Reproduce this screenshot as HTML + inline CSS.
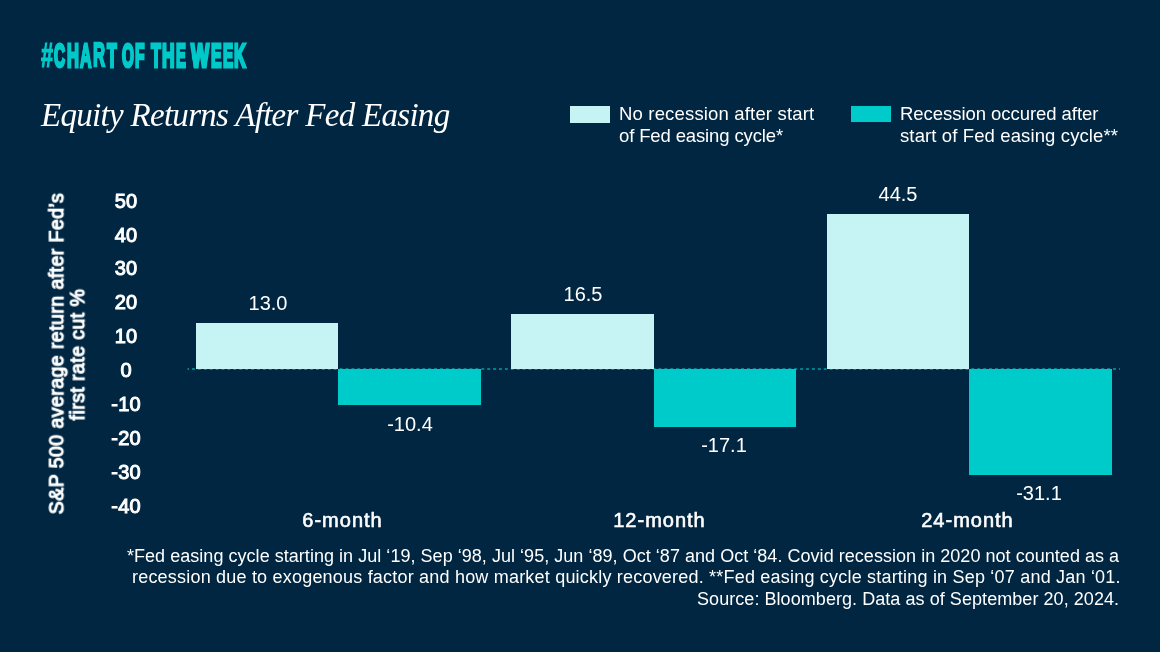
<!DOCTYPE html>
<html><head><meta charset="utf-8"><style>
html,body{margin:0;padding:0;}
body{width:1160px;height:652px;overflow:hidden;background:#002641;position:relative;font-family:"Liberation Sans",sans-serif;}
.t{position:absolute;white-space:nowrap;will-change:transform;}
.b{position:absolute;}
</style></head><body>
<div class="t" style="left:40.54px;top:37.40px;font:bold 35.91px/35.91px 'Liberation Sans',sans-serif;color:#00c9c9;-webkit-text-stroke:1.2px #00c9c9;transform:scaleX(0.6057);transform-origin:0 0">#</div>
<div class="t" style="left:54.16px;top:38.87px;font:bold 33.00px/33.00px 'Liberation Sans',sans-serif;color:#00c9c9;-webkit-text-stroke:3.2px #00c9c9;transform:scaleX(0.4601);transform-origin:0 0">C</div>
<div class="t" style="left:67.15px;top:38.87px;font:bold 33.00px/33.00px 'Liberation Sans',sans-serif;color:#00c9c9;-webkit-text-stroke:3.2px #00c9c9;transform:scaleX(0.5000);transform-origin:0 0">H</div>
<div class="t" style="left:80.32px;top:38.57px;font:bold 33.58px/33.58px 'Liberation Sans',sans-serif;color:#00c9c9;-webkit-text-stroke:2.8px #00c9c9;transform:scaleX(0.4738);transform-origin:0 0">A</div>
<div class="t" style="left:92.67px;top:38.43px;font:bold 33.87px/33.87px 'Liberation Sans',sans-serif;color:#00c9c9;-webkit-text-stroke:2.6px #00c9c9;transform:scaleX(0.4938);transform-origin:0 0">R</div>
<div class="t" style="left:106.74px;top:38.87px;font:bold 33.00px/33.00px 'Liberation Sans',sans-serif;color:#00c9c9;-webkit-text-stroke:3.2px #00c9c9;transform:scaleX(0.4816);transform-origin:0 0">T</div>
<div class="t" style="left:121.66px;top:38.87px;font:bold 33.00px/33.00px 'Liberation Sans',sans-serif;color:#00c9c9;-webkit-text-stroke:3.2px #00c9c9;transform:scaleX(0.4631);transform-origin:0 0">O</div>
<div class="t" style="left:134.66px;top:38.87px;font:bold 33.00px/33.00px 'Liberation Sans',sans-serif;color:#00c9c9;-webkit-text-stroke:3.2px #00c9c9;transform:scaleX(0.4714);transform-origin:0 0">F</div>
<div class="t" style="left:150.75px;top:38.87px;font:bold 33.00px/33.00px 'Liberation Sans',sans-serif;color:#00c9c9;-webkit-text-stroke:3.2px #00c9c9;transform:scaleX(0.4904);transform-origin:0 0">T</div>
<div class="t" style="left:162.23px;top:38.87px;font:bold 33.00px/33.00px 'Liberation Sans',sans-serif;color:#00c9c9;-webkit-text-stroke:3.2px #00c9c9;transform:scaleX(0.5221);transform-origin:0 0">H</div>
<div class="t" style="left:176.08px;top:38.87px;font:bold 33.00px/33.00px 'Liberation Sans',sans-serif;color:#00c9c9;-webkit-text-stroke:3.2px #00c9c9;transform:scaleX(0.4467);transform-origin:0 0">E</div>
<div class="t" style="left:191.06px;top:38.87px;font:bold 33.00px/33.00px 'Liberation Sans',sans-serif;color:#00c9c9;-webkit-text-stroke:3.2px #00c9c9;transform:scaleX(0.5834);transform-origin:0 0">W</div>
<div class="t" style="left:210.86px;top:38.87px;font:bold 33.00px/33.00px 'Liberation Sans',sans-serif;color:#00c9c9;-webkit-text-stroke:3.2px #00c9c9;transform:scaleX(0.4790);transform-origin:0 0">E</div>
<div class="t" style="left:222.67px;top:38.87px;font:bold 33.00px/33.00px 'Liberation Sans',sans-serif;color:#00c9c9;-webkit-text-stroke:3.2px #00c9c9;transform:scaleX(0.4605);transform-origin:0 0">E</div>
<div class="t" style="left:233.95px;top:38.87px;font:bold 33.00px/33.00px 'Liberation Sans',sans-serif;color:#00c9c9;-webkit-text-stroke:3.2px #00c9c9;transform:scaleX(0.4935);transform-origin:0 0">K</div>
<div class="t" style="left:41px;top:99.36px;font:italic 33px/33px 'Liberation Serif',serif;color:#fff;letter-spacing:-0.7px">Equity Returns After Fed Easing</div>
<div class="b" style="left:570px;top:106px;width:40px;height:17px;background:#c6f4f4"></div>
<div class="b" style="left:851px;top:106px;width:40px;height:16px;background:#00cbcb"></div>
<div class="t" style="left:619px;top:105.44px;font:18.5px/18.5px 'Liberation Sans',sans-serif;color:#fff;letter-spacing:0.17px">No recession after start</div>
<div class="t" style="left:619px;top:127.14px;font:18.5px/18.5px 'Liberation Sans',sans-serif;color:#fff;letter-spacing:-0.13px">of Fed easing cycle*</div>
<div class="t" style="left:900px;top:105.44px;font:18.5px/18.5px 'Liberation Sans',sans-serif;color:#fff;letter-spacing:-0.05px">Recession occured after</div>
<div class="t" style="left:900px;top:127.14px;font:18.5px/18.5px 'Liberation Sans',sans-serif;color:#fff;letter-spacing:0.12px">start of Fed easing cycle**</div>
<div class="t" style="left:-142.66px;top:344.25px;width:400px;text-align:center;font:19.5px/19.5px 'Liberation Sans',sans-serif;color:#fff;-webkit-text-stroke:1.1px #fff;letter-spacing:0.45px;text-indent:0.45px;transform:rotate(-90deg)">S&amp;P 500 average return after Fed’s</div>
<div class="t" style="left:-122.46px;top:345.25px;width:400px;text-align:center;font:19.5px/19.5px 'Liberation Sans',sans-serif;color:#fff;-webkit-text-stroke:1.1px #fff;letter-spacing:0.45px;text-indent:0.45px;transform:rotate(-90deg)">first rate cut %</div>
<div class="t" style="left:85.5px;width:80px;text-align:center;top:190.57px;font:20px/20px 'Liberation Sans',sans-serif;color:#fff;-webkit-text-stroke:1.0px #fff;letter-spacing:0.2px;text-indent:0.2px">50</div>
<div class="t" style="left:85.5px;width:80px;text-align:center;top:224.52px;font:20px/20px 'Liberation Sans',sans-serif;color:#fff;-webkit-text-stroke:1.0px #fff;letter-spacing:0.2px;text-indent:0.2px">40</div>
<div class="t" style="left:85.5px;width:80px;text-align:center;top:258.47px;font:20px/20px 'Liberation Sans',sans-serif;color:#fff;-webkit-text-stroke:1.0px #fff;letter-spacing:0.2px;text-indent:0.2px">30</div>
<div class="t" style="left:85.5px;width:80px;text-align:center;top:292.42px;font:20px/20px 'Liberation Sans',sans-serif;color:#fff;-webkit-text-stroke:1.0px #fff;letter-spacing:0.2px;text-indent:0.2px">20</div>
<div class="t" style="left:85.5px;width:80px;text-align:center;top:326.37px;font:20px/20px 'Liberation Sans',sans-serif;color:#fff;-webkit-text-stroke:1.0px #fff;letter-spacing:0.2px;text-indent:0.2px">10</div>
<div class="t" style="left:85.5px;width:80px;text-align:center;top:360.32px;font:20px/20px 'Liberation Sans',sans-serif;color:#fff;-webkit-text-stroke:1.0px #fff;letter-spacing:0.2px;text-indent:0.2px">0</div>
<div class="t" style="left:85.5px;width:80px;text-align:center;top:394.27px;font:20px/20px 'Liberation Sans',sans-serif;color:#fff;-webkit-text-stroke:1.0px #fff;letter-spacing:0.2px;text-indent:0.2px">-10</div>
<div class="t" style="left:85.5px;width:80px;text-align:center;top:428.22px;font:20px/20px 'Liberation Sans',sans-serif;color:#fff;-webkit-text-stroke:1.0px #fff;letter-spacing:0.2px;text-indent:0.2px">-20</div>
<div class="t" style="left:85.5px;width:80px;text-align:center;top:462.17px;font:20px/20px 'Liberation Sans',sans-serif;color:#fff;-webkit-text-stroke:1.0px #fff;letter-spacing:0.2px;text-indent:0.2px">-30</div>
<div class="t" style="left:85.5px;width:80px;text-align:center;top:496.12px;font:20px/20px 'Liberation Sans',sans-serif;color:#fff;-webkit-text-stroke:1.0px #fff;letter-spacing:0.2px;text-indent:0.2px">-40</div>
<svg class="b" style="left:0;top:0" width="1160" height="652"><line x1="187.5" y1="369" x2="1120" y2="369" stroke="#00cbcb" stroke-opacity="0.55" stroke-width="2" stroke-dasharray="2.952 2.952" stroke-dashoffset="1.4"/></svg>
<div class="b" style="left:196px;top:323px;width:142px;height:46px;background:#c6f4f4"></div>
<div class="b" style="left:338px;top:369px;width:143px;height:36px;background:#00cbcb"></div>
<div class="b" style="left:511px;top:314px;width:143px;height:55px;background:#c6f4f4"></div>
<div class="b" style="left:654px;top:369px;width:142px;height:58px;background:#00cbcb"></div>
<div class="b" style="left:827px;top:214px;width:142px;height:155px;background:#c6f4f4"></div>
<div class="b" style="left:969px;top:369px;width:143px;height:106px;background:#00cbcb"></div>
<div class="t" style="left:218px;width:100px;text-align:center;top:293.07px;font:20px/20px 'Liberation Sans',sans-serif;color:#fff">13.0</div>
<div class="t" style="left:359.5px;width:100px;text-align:center;top:413.77px;font:20px/20px 'Liberation Sans',sans-serif;color:#fff">-10.4</div>
<div class="t" style="left:533.4px;width:100px;text-align:center;top:284.07px;font:20px/20px 'Liberation Sans',sans-serif;color:#fff">16.5</div>
<div class="t" style="left:674px;width:100px;text-align:center;top:435.07px;font:20px/20px 'Liberation Sans',sans-serif;color:#fff">-17.1</div>
<div class="t" style="left:848px;width:100px;text-align:center;top:183.67px;font:20px/20px 'Liberation Sans',sans-serif;color:#fff">44.5</div>
<div class="t" style="left:989.2px;width:100px;text-align:center;top:483.27px;font:20px/20px 'Liberation Sans',sans-serif;color:#fff">-31.1</div>
<div class="t" style="left:262.2px;width:160px;text-align:center;top:510.07px;font:20px/20px 'Liberation Sans',sans-serif;color:#fff;-webkit-text-stroke:0.6px #fff;letter-spacing:1.0px;text-indent:1.0px">6-month</div>
<div class="t" style="left:578.6px;width:160px;text-align:center;top:510.07px;font:20px/20px 'Liberation Sans',sans-serif;color:#fff;-webkit-text-stroke:0.6px #fff;letter-spacing:1.0px;text-indent:1.0px">12-month</div>
<div class="t" style="left:886.7px;width:160px;text-align:center;top:510.07px;font:20px/20px 'Liberation Sans',sans-serif;color:#fff;-webkit-text-stroke:0.6px #fff;letter-spacing:1.0px;text-indent:1.0px">24-month</div>
<div class="t" style="right:40.964px;top:546.56px;text-align:right;font:18px/18px 'Liberation Sans',sans-serif;color:#fff;letter-spacing:0.036px">*Fed easing cycle starting in Jul ‘19, Sep ‘98, Jul ‘95, Jun ‘89, Oct ‘87 and Oct ‘84. Covid recession in 2020 not counted as a</div>
<div class="t" style="right:39.297px;top:568.36px;text-align:right;font:18px/18px 'Liberation Sans',sans-serif;color:#fff;letter-spacing:0.203px">recession due to exogenous factor and how market quickly recovered. **Fed easing cycle starting in Sep ‘07 and Jan ‘01.</div>
<div class="t" style="right:40.942px;top:590.36px;text-align:right;font:18px/18px 'Liberation Sans',sans-serif;color:#fff;letter-spacing:0.058px">Source: Bloomberg. Data as of September 20, 2024.</div>
</body></html>
